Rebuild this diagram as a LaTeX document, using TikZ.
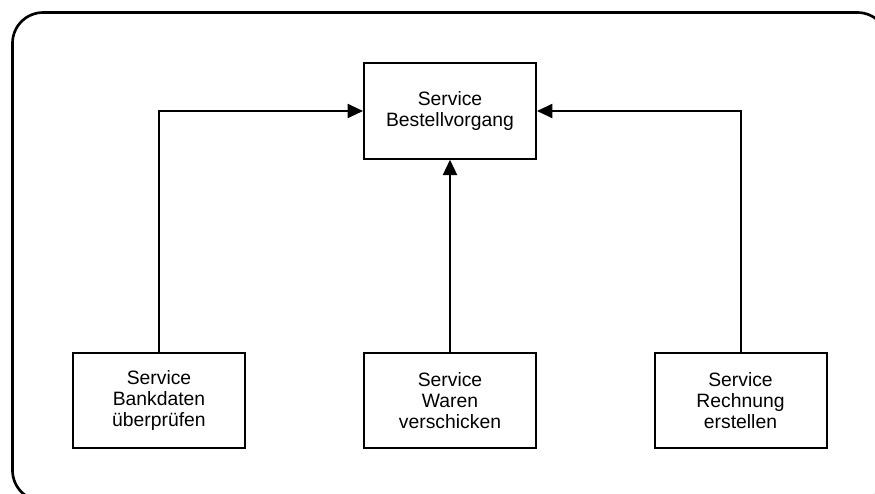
\documentclass[tikz,border=0pt]{standalone}
\usepackage{fontspec}
\setmainfont{Liberation Sans}
\usetikzlibrary{arrows.meta}
\begin{document}
\begin{tikzpicture}[x=0.75pt,y=-0.75pt,
  box/.style={draw, line width=1.5pt, minimum width=129pt, minimum height=71.5pt, align=center, inner sep=0pt, font=\fontsize{14.5}{15.6}\selectfont},
  conn/.style={line width=1.5pt, -{Triangle[length=11.5pt,width=10.5pt]}}]
\useasboundingbox (0,0) rectangle (875,493);
\begin{scope}
\clip (0,0) rectangle (875,493);
\draw[line width=2pt, rounded corners=23pt] (12.5,12.5) rectangle (888,501);
\end{scope}
\node[box] (top) at (450,111) {Service\\Bestellvorgang};
\node[box] (bl) at (159,400.5) {Service\\Bankdaten\\überprüfen};
\node[box] (bm) at (450,400.5) {Service\\Waren\\verschicken};
\node[box] (br) at (740.5,400.5) {Service\\Rechnung\\erstellen};
\draw[conn] (bl.north) |- (top.west);
\draw[conn] (bm.north) -- (top.south);
\draw[conn] (br.north) |- (top.east);
\end{tikzpicture}
\end{document}
